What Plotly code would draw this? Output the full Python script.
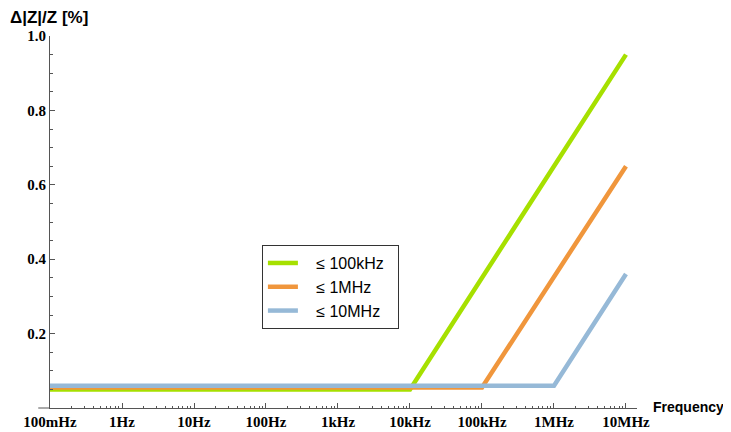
import plotly.graph_objects as go

# Data
series_names = ["≤ 100kHz", "≤ 1MHz", "≤ 10MHz"]
green_x = [0.1, 1e4, 1e7]
green_y = [0.05, 0.05, 0.95]
orange_x = [0.1, 1e5, 1e7]
orange_y = [0.055, 0.055, 0.65]
blue_x = [0.1, 1e6, 1e7]
blue_y = [0.06, 0.06, 0.36]
x_tick_vals = [0.1, 1, 10, 100, 1e3, 1e4, 1e5, 1e6, 1e7]
x_tick_text = ["100mHz", "1Hz", "10Hz", "100Hz", "1kHz", "10kHz", "100kHz", "1MHz", "10MHz"]
y_tick_vals = [0.2, 0.4, 0.6, 0.8, 1.0]
y_tick_text = ["0.2", "0.4", "0.6", "0.8", "1.0"]

colors = ["#A6E000", "#F0963C", "#96B9D7"]
nb = "\u00a0"

fig = go.Figure()
for name, xs, ys, c in zip(series_names, [green_x, orange_x, blue_x],
                           [green_y, orange_y, blue_y], colors):
    fig.add_trace(go.Scatter(x=xs, y=ys, mode="lines", name=nb * 3 + name + nb * 2,
                             line=dict(color=c, width=4.5)))

minor_x = [m * 10 ** k for k in range(-1, 7) for m in range(2, 10)]

axis_col = "#555555"
tick_font = dict(family="Liberation Serif", size=15, color="black")

fig.update_layout(
    width=723, height=424,
    margin=dict(l=42, r=94, t=28, b=24),
    plot_bgcolor="white", paper_bgcolor="white",
    showlegend=True,
    legend=dict(x=0.361, y=0.438, xanchor="left", yanchor="top",
                bordercolor="#333333", borderwidth=1, bgcolor="white",
                font=dict(family="Arial", size=16, color="black"),
                tracegroupgap=0, itemwidth=30),
    xaxis=dict(type="log", range=[-1, 7.153], showgrid=False, zeroline=False,
               showline=True, linecolor=axis_col, linewidth=1,
               tickmode="array", tickvals=x_tick_vals,
               ticktext=["<b>%s</b>" % t for t in x_tick_text],
               ticks="inside", ticklen=5, tickcolor=axis_col,
               tickfont=tick_font, automargin=False,
               minor=dict(tickmode="array", tickvals=minor_x, ticks="inside",
                          ticklen=2.5, tickcolor=axis_col, showgrid=False)),
    yaxis=dict(range=[0, 1.0], showgrid=False, zeroline=False,
               showline=True, linecolor=axis_col, linewidth=1,
               tickmode="array", tickvals=y_tick_vals,
               ticktext=["<b>%s</b>" % t for t in y_tick_text],
               ticks="inside", ticklen=5, tickcolor=axis_col,
               tickfont=tick_font, automargin=False,
               minor=dict(dtick=0.05, ticks="inside", ticklen=3,
                          tickcolor=axis_col, showgrid=False)),
)

fig.add_annotation(x=0.0, y=1.0, xref="paper", yref="paper", xshift=-42, yshift=19,
                   text="<b>Δ|Z|/Z [%]</b>", showarrow=False, xanchor="left", yanchor="middle",
                   font=dict(family="Arial", size=17, color="black"))
fig.add_annotation(x=1.0, y=0.0, xref="paper", yref="paper", xshift=14, yshift=1,
                   text="<b>Frequency</b>", showarrow=False, xanchor="left", yanchor="middle",
                   font=dict(family="Arial", size=14, color="black"))
# small extension of the x axis line to the left of the y axis
fig.add_shape(type="line", xref="paper", yref="paper", x0=-0.02, x1=0, y0=0, y1=0,
              line=dict(color=axis_col, width=1))

fig.write_html("out.html")
